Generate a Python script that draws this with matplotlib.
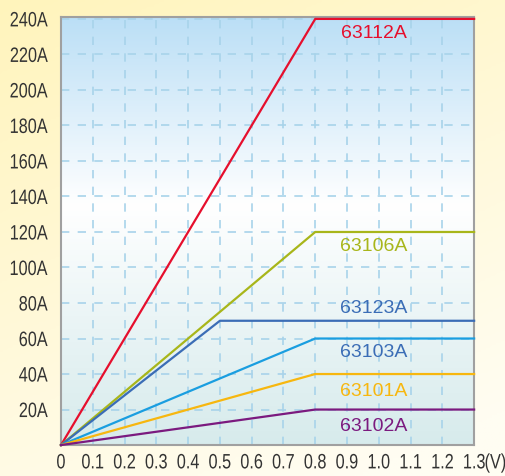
import numpy as np
import matplotlib
matplotlib.use("Agg")
import matplotlib.pyplot as plt
from matplotlib.colors import LinearSegmentedColormap
from matplotlib.patheffects import AbstractPathEffect
from matplotlib.transforms import Affine2D, blended_transform_factory, offset_copy

# data
models = ["63112A", "63106A", "63123A", "63103A", "63101A", "63102A"]
knee_v = [0.8, 0.8, 0.5, 0.8, 0.8, 0.8]
max_a = [240, 120, 70, 60, 40, 20]
v_end = 1.3
colors = ["#e60f2d", "#a8b61a", "#3b6db6", "#1a9ee0", "#f7b70f", "#7b1a7f"]
label_colors = ["#e60f2d", "#a8b61a", "#3b6db6", "#3b6db6", "#f7b70f", "#7b1a7f"]
label_y = [232, 112, 77, 52, 30, 10.5]

x_ticks = [0, 0.1, 0.2, 0.3, 0.4, 0.5, 0.6, 0.7, 0.8, 0.9, 1.0, 1.1, 1.2, 1.3]
x_ticklabels = ["0", "0.1", "0.2", "0.3", "0.4", "0.5", "0.6", "0.7", "0.8",
                "0.9", "1.0", "1.1", "1.2", "1.3"]
y_ticks = [20, 40, 60, 80, 100, 120, 140, 160, 180, 200, 220, 240]
y_ticklabels = [f"{v}A" for v in y_ticks]


class Squeeze(AbstractPathEffect):
    # narrow the glyphs horizontally (condensed look), keeping the anchor side fixed
    def __init__(self, sx=0.78, anchor="center"):
        super().__init__()
        self.sx = sx
        self.anchor = anchor

    def draw_path(self, renderer, gc, tpath, affine, rgbFace=None):
        ext = tpath.get_extents()
        if self.anchor == "right":
            x0 = ext.x1
        elif self.anchor == "left":
            x0 = ext.x0
        else:
            x0 = (ext.x0 + ext.x1) / 2
        sq = Affine2D().translate(-x0, 0).scale(self.sx, 1).translate(x0, 0)
        renderer.draw_path(gc, tpath, sq + affine, rgbFace)


tick_font = ["Liberation Sans", "DejaVu Sans"]
tick_color = "#333333"
tick_size = 15

fig = plt.figure(figsize=(5.06, 4.76), dpi=100)

# figure background gradient (cream -> pale yellow)
bg = fig.add_axes([0, 0, 1, 1], zorder=-10)
yy, xx = np.mgrid[0:1:200j, 0:1:200j]
t = np.clip(0.75 * (1 - yy) + 0.35 * (1 - xx) - 0.1, 0, 1)
bg_cmap = LinearSegmentedColormap.from_list("bg", ["#fffdf2", "#fff4bc"])
bg.imshow(t, cmap=bg_cmap, extent=[0, 1, 0, 1], aspect="auto", origin="upper")
bg.axis("off")

ax = fig.add_axes([0.1206, 0.065, 0.8164, 0.899])
ax.set_xlim(0, 1.3)
ax.set_ylim(0, 241)

# axes background gradient (light blue top, white middle, grey-teal bottom)
ax_cmap = LinearSegmentedColormap.from_list(
    "axbg", [(0, "#d7ebec"), (0.3, "#ebf5f6"), (0.56, "#ffffff"), (1, "#bbdff6")])
grad = np.linspace(0, 1, 256).reshape(-1, 1)
ax.imshow(grad, cmap=ax_cmap, extent=[0, 1.3, 0, 241], aspect="auto",
          origin="lower", zorder=0)

ax.set_xticks(x_ticks)
ax.set_yticks(y_ticks)
ax.grid(True, color="#a8d3ea", linestyle=(0, (5, 5)), linewidth=1.2, zorder=1)

for i, m in enumerate(models):
    xs = [0, knee_v[i], v_end]
    ys = [0, max_a[i], max_a[i]]
    ax.plot(xs, ys, color=colors[i], linewidth=1.6, zorder=3, clip_on=False)
    ax.text(0.985, label_y[i], m, color=label_colors[i], fontsize=14,
            family=["Liberation Sans", "DejaVu Sans"], ha="center", va="center",
            zorder=4)

x_pad = 6
ax.set_xticklabels(x_ticklabels, family=tick_font, fontsize=tick_size, color=tick_color)
ax.set_yticklabels(y_ticklabels, family=tick_font, fontsize=tick_size, color=tick_color)
ax.tick_params(axis="both", length=0)
ax.tick_params(axis="x", pad=x_pad)
ax.tick_params(axis="y", pad=9.5)
for lab in ax.get_xticklabels():
    lab.set_path_effects([Squeeze(0.78, "center")])
for lab in ax.get_yticklabels():
    lab.set_path_effects([Squeeze(0.78, "right")])

unit_tr = offset_copy(blended_transform_factory(ax.transData, ax.transAxes),
                      fig=fig, y=-x_pad, units="points")
ax.text(1.332, 0, "(V)", transform=unit_tr, ha="left", va="top",
        family=tick_font, fontsize=tick_size, color=tick_color,
        path_effects=[Squeeze(0.78, "left")])

for s in ax.spines.values():
    s.set_color("#a0a0a0")
    s.set_linewidth(1.5)

fig.savefig("out.png", dpi=100)
